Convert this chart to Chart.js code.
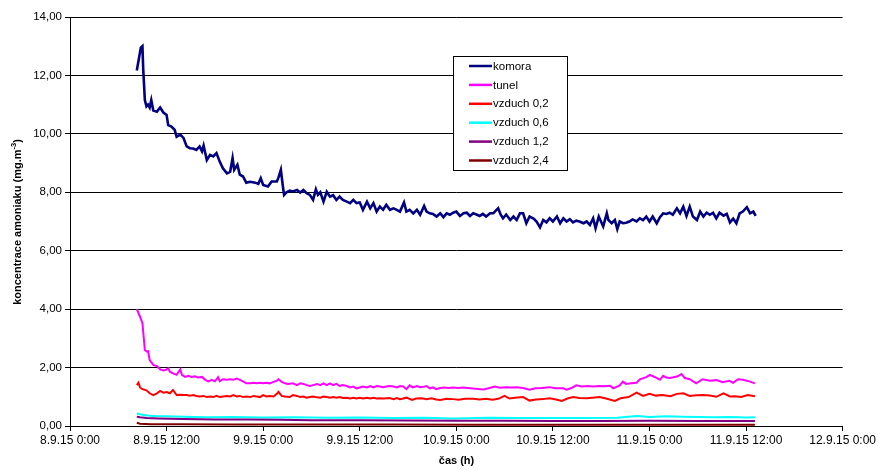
<!DOCTYPE html>
<html><head><meta charset="utf-8">
<script src="https://cdn.jsdelivr.net/npm/chart.js@4.4.1/dist/chart.umd.min.js"></script>
<style>html,body{margin:0;padding:0;background:#fff;}#wrap{width:878px;height:470px;position:relative}</style>
</head><body><div id="wrap"><canvas id="c" width="878" height="470"></canvas></div>
<script>
const seriesNames = ['komora', 'tunel', 'vzduch 0,2', 'vzduch 0,6', 'vzduch 1,2', 'vzduch 2,4'];
const seriesColors = ['#000080', '#FF00FF', '#FF0000', '#00FFFF', '#800080', '#800000'];
const xTickLabels = ['8.9.15 0:00', '8.9.15 12:00', '9.9.15 0:00', '9.9.15 12:00', '10.9.15 0:00', '10.9.15 12:00', '11.9.15 0:00', '11.9.15 12:00', '12.9.15 0:00'];
const yTitle = 'koncentrace amoniaku (mg.m';
const yTitleSup = '-3';
const xTitle = 'čas (h)';

// hours since 8.9.15 0:00
const komoraHours = [8.3,8.8,9.0,9.1,9.3,9.5,9.7,9.9,10.1,10.35,10.8,11.2,11.6,12.0,12.2,12.6,13.0,13.25,13.7,14.1,14.5,14.9,15.3,15.7,16.1,16.4,16.6,17.0,17.4,17.8,18.2,18.6,19.0,19.5,19.9,20.2,20.4,20.8,21.1,21.5,21.9,22.4,23.0,23.4,23.7,24.0,24.6,25.05,25.7,25.9,26.2,26.4,26.6,26.9,27.3,27.7,28.2,28.6,29.0,29.4,29.8,30.2,30.55,30.8,31.1,31.5,31.9,32.3,32.7,33.1,33.5,33.9,34.4,34.8,35.2,35.6,36.0,36.4,36.9,37.3,37.7,38.1,38.5,38.9,39.3,39.75,40.2,40.6,41.0,41.5,41.8,42.2,42.65,43.1,43.5,44.0,44.3,44.7,45.1,45.55,46.0,46.4,46.8,47.2,47.6,48.0,48.45,48.9,49.3,49.7,50.1,50.5,50.9,51.3,51.7,52.2,52.6,52.9,53.2,53.5,53.8,54.2,54.7,55.1,55.5,55.9,56.3,56.7,57.1,57.6,57.97,58.4,58.8,59.2,59.6,60.0,60.5,60.9,61.3,61.7,62.1,62.5,62.9,63.3,63.8,64.2,64.6,65.0,65.3,65.7,66.25,66.7,66.9,67.3,67.7,68.0,68.3,68.7,69.1,69.5,69.9,70.4,70.8,71.2,71.6,72.0,72.4,72.9,73.3,73.7,74.1,74.5,74.9,75.4,75.8,76.2,76.6,77.0,77.4,77.9,78.3,78.7,79.1,79.5,79.9,80.3,80.7,81.2,81.6,82.0,82.4,82.8,83.2,83.6,84.1,84.5,84.9,85.2];
const komoraValues = [12.17,12.95,13.0,12.2,11.16,10.94,11.0,10.9,11.16,10.8,10.76,10.9,10.73,10.65,10.3,10.25,10.14,9.9,9.97,9.86,9.57,9.51,9.5,9.45,9.57,9.4,9.6,9.1,9.28,9.23,9.34,9.05,8.82,8.65,8.7,9.17,8.77,8.94,8.6,8.54,8.33,8.36,8.33,8.29,8.48,8.25,8.2,8.37,8.37,8.5,8.77,8.31,7.91,8.0,8.06,8.03,8.08,7.99,8.08,7.97,7.91,7.74,8.1,7.91,8.0,7.68,8.02,7.85,7.9,7.74,7.85,7.74,7.68,7.63,7.74,7.63,7.65,7.4,7.68,7.45,7.63,7.34,7.51,7.4,7.57,7.4,7.45,7.4,7.34,7.65,7.34,7.4,7.28,7.4,7.23,7.53,7.34,7.28,7.26,7.17,7.28,7.15,7.28,7.23,7.3,7.34,7.19,7.28,7.3,7.19,7.28,7.24,7.19,7.26,7.17,7.28,7.28,7.37,7.45,7.24,7.11,7.24,7.05,7.17,7.05,7.28,7.28,6.94,7.17,7.1,7.0,6.8,7.05,6.97,7.11,7.0,7.17,6.94,7.11,7.0,7.08,6.97,7.03,7.0,6.94,7.0,6.88,7.11,6.77,7.17,6.83,7.28,7.05,6.94,7.05,6.74,7.0,6.94,6.96,7.0,7.07,7.0,7.11,7.05,7.17,7.0,7.17,6.94,7.15,7.28,7.26,7.3,7.23,7.45,7.28,7.51,7.19,7.51,7.17,7.05,7.34,7.17,7.3,7.23,7.3,7.11,7.3,7.2,7.26,6.97,7.1,6.94,7.28,7.34,7.49,7.28,7.34,7.19];

const tunelHours = [8.3,8.7,9.0,9.3,9.5,9.7,9.9,10.35,10.8,11.2,11.6,11.9,12.2,12.4,12.8,13.25,13.7,13.9,14.3,14.7,15.1,15.5,15.9,16.4,16.8,17.2,17.6,18.0,18.4,18.6,19.0,19.5,19.9,20.3,20.7,21.1,21.5,21.9,22.4,22.8,23.2,23.6,24.0,24.4,24.8,25.3,25.7,25.9,26.3,26.7,27.1,27.7,28.2,28.6,29.0,29.4,29.8,30.2,30.7,31.1,31.5,31.9,32.3,32.7,33.1,33.5,33.9,34.4,34.8,35.2,35.6,36.0,36.4,36.9,37.3,37.7,38.1,38.5,38.9,39.3,39.7,40.2,40.6,41.0,41.4,41.8,42.2,42.6,43.1,43.5,43.9,44.3,44.7,45.1,45.5,46.0,46.5,47.0,47.6,48.2,48.8,49.4,50.1,50.7,51.4,52.1,52.8,53.4,54.1,54.8,55.5,56.3,57.1,57.8,58.6,59.6,60.3,61.3,61.7,62.3,62.9,63.6,64.3,65.0,65.7,66.4,67.1,67.5,68.3,68.7,69.1,69.7,70.4,70.8,71.6,72.05,72.7,73.3,73.7,74.1,74.5,75.0,75.5,75.97,76.4,77.0,77.8,78.6,79.5,80.3,81.1,81.9,82.4,83.0,83.6,84.5,85.1];
const tunelValues = [4.0,3.74,3.52,2.6,2.55,2.56,2.26,2.09,2.05,1.94,1.9,1.92,1.98,1.86,1.8,1.75,1.94,1.75,1.68,1.72,1.68,1.7,1.66,1.68,1.58,1.53,1.58,1.53,1.67,1.53,1.6,1.58,1.6,1.58,1.62,1.58,1.53,1.46,1.46,1.48,1.46,1.48,1.46,1.48,1.46,1.51,1.55,1.6,1.51,1.46,1.44,1.46,1.4,1.46,1.44,1.4,1.37,1.4,1.44,1.4,1.46,1.4,1.46,1.4,1.44,1.37,1.4,1.37,1.32,1.35,1.29,1.32,1.35,1.32,1.37,1.32,1.37,1.35,1.33,1.35,1.37,1.35,1.32,1.37,1.35,1.26,1.39,1.32,1.37,1.33,1.34,1.37,1.29,1.32,1.26,1.3,1.32,1.3,1.32,1.3,1.32,1.3,1.28,1.27,1.25,1.3,1.35,1.31,1.33,1.32,1.33,1.3,1.24,1.29,1.3,1.33,1.29,1.29,1.24,1.3,1.39,1.35,1.37,1.35,1.37,1.36,1.38,1.29,1.39,1.52,1.44,1.46,1.48,1.6,1.67,1.75,1.67,1.58,1.72,1.66,1.64,1.67,1.7,1.78,1.64,1.6,1.46,1.6,1.55,1.57,1.5,1.55,1.48,1.6,1.58,1.52,1.46];

const vzduch02Hours = [8.3,8.5,8.7,9.0,9.5,9.9,10.35,10.8,11.2,11.6,12.0,12.4,12.8,13.25,13.7,14.1,14.5,14.9,15.3,15.7,16.1,16.6,17.0,17.4,17.8,18.2,18.6,19.0,19.5,19.9,20.3,20.7,21.1,21.5,21.9,22.4,22.8,23.2,23.6,24.0,24.4,24.8,25.3,25.7,25.9,26.3,26.7,27.3,27.7,28.2,28.6,29.0,29.4,29.8,30.2,30.7,31.1,31.5,31.9,32.3,32.7,33.1,33.5,33.9,34.4,34.8,35.2,35.6,36.0,36.4,36.9,37.3,37.7,38.1,38.5,39.0,39.7,40.2,40.6,41.0,41.4,41.8,42.5,43.0,43.7,44.3,44.9,45.5,46.0,46.8,47.6,48.3,49.1,50.1,50.9,51.7,52.5,53.2,54.0,54.6,55.3,56.3,57.1,57.9,58.8,59.6,60.4,61.1,61.8,62.5,63.3,64.2,64.9,65.8,66.6,67.7,68.4,69.4,70.4,71.2,72.0,72.8,73.6,74.6,75.4,76.2,77.0,77.8,78.6,79.5,80.3,81.2,82.0,82.6,83.4,84.2,85.1];
const vzduch02Values = [1.4,1.48,1.32,1.26,1.22,1.12,1.06,1.12,1.2,1.14,1.16,1.12,1.23,1.06,1.07,1.06,1.06,1.04,1.06,1.03,1.01,1.03,0.99,1.01,0.99,1.03,0.99,1.01,1.03,1.01,1.06,1.01,1.03,0.99,1.01,0.99,1.03,1.01,0.99,1.06,1.01,1.03,1.01,1.1,1.17,1.03,1.01,0.99,1.06,1.03,0.99,1.01,0.97,0.99,1.01,0.98,0.97,1.01,0.99,0.97,0.99,0.97,0.99,0.96,0.97,0.94,0.97,0.94,0.97,0.94,0.97,0.94,0.97,0.94,0.95,0.94,0.96,0.92,0.96,0.92,0.94,0.97,0.89,0.94,0.95,0.92,0.95,0.91,0.89,0.93,0.92,0.9,0.93,0.93,0.91,0.93,0.9,0.93,1.03,0.94,0.97,0.99,0.87,0.91,0.92,0.95,0.91,0.86,0.94,0.99,0.96,0.95,0.97,0.99,0.94,0.86,0.95,0.99,1.14,1.03,1.1,1.04,1.06,1.02,1.1,1.12,1.03,1.05,1.06,1.04,1.0,1.12,1.01,1.02,0.99,1.06,1.02];

const vzduch06Hours = [8.3,8.7,9.5,10.5,12,14,17,20,24,28,32,36,40,44,47.6,52,56,60,64,68,70.4,72,74,76,78,80,82,84,85.1];
const vzduch06Values = [0.43,0.4,0.36,0.34,0.33,0.32,0.3,0.31,0.29,0.3,0.28,0.29,0.27,0.28,0.26,0.28,0.27,0.27,0.27,0.28,0.34,0.31,0.33,0.32,0.31,0.3,0.31,0.29,0.3];

const vzduch12Hours = [8.3,8.7,9.5,11,14,18,22,26,30,36,42,48,54,60,66,72,78,85.1];
const vzduch12Values = [0.32,0.3,0.27,0.26,0.24,0.22,0.22,0.21,0.2,0.2,0.19,0.18,0.18,0.17,0.17,0.18,0.17,0.17];

const vzduch24Hours = [8.3,8.7,10,14,20,30,40,50,60,70,85.1];
const vzduch24Values = [0.11,0.08,0.06,0.06,0.05,0.05,0.05,0.04,0.04,0.04,0.04];

const allHours = [komoraHours, tunelHours, vzduch02Hours, vzduch06Hours, vzduch12Hours, vzduch24Hours];
const allValues = [komoraValues, tunelValues, vzduch02Values, vzduch06Values, vzduch12Values, vzduch24Values];

const FONT = '"Liberation Sans", Arial, sans-serif';

const datasets = seriesNames.map((name, i) => ({
  label: name,
  data: allHours[i].map((h, k) => ({x: h, y: allValues[i][k]})),
  borderColor: seriesColors[i],
  backgroundColor: seriesColors[i],
  borderWidth: i === 0 ? 2.6 : 2,
  pointRadius: 0,
  tension: 0,
  fill: false,
  order: 6 - i
}));

const customPlugin = {
  id: 'custom',
  afterDatasetsDraw(chart) {
    const ctx = chart.ctx;
    ctx.save();
    const bx = 453.5, by = 56.5, bw = 114, bh = 114;
    ctx.fillStyle = '#fff';
    ctx.fillRect(bx, by, bw, bh);
    ctx.strokeStyle = '#000';
    ctx.lineWidth = 1;
    ctx.strokeRect(bx, by, bw, bh);
    ctx.font = '11.5px ' + FONT;
    ctx.textBaseline = 'middle';
    ctx.textAlign = 'left';
    chart.data.datasets.forEach((ds, i) => {
      const y = 66 + i * 18.9;
      ctx.strokeStyle = ds.borderColor;
      ctx.lineWidth = 2.5;
      ctx.beginPath();
      ctx.moveTo(469, y);
      ctx.lineTo(492, y);
      ctx.stroke();
      ctx.fillStyle = '#000';
      ctx.fillText(ds.label, 493, y + 0.5);
    });
    ctx.translate(18, 222);
    ctx.rotate(-Math.PI / 2);
    const mainFont = 'bold 11px ' + FONT;
    const supFont = 'bold 7.5px ' + FONT;
    ctx.font = mainFont;
    const w1 = ctx.measureText(yTitle).width;
    const w3 = ctx.measureText(')').width;
    ctx.font = supFont;
    const w2 = ctx.measureText(yTitleSup).width;
    let x0 = -(w1 + w2 + w3) / 2;
    ctx.fillStyle = '#000';
    ctx.textBaseline = 'middle';
    ctx.font = mainFont;
    ctx.fillText(yTitle, x0, 0);
    ctx.font = supFont;
    ctx.fillText(yTitleSup, x0 + w1, -4);
    ctx.font = mainFont;
    ctx.fillText(')', x0 + w1 + w2, 0);
    ctx.restore();
    ctx.save();
    ctx.font = 'bold 11px ' + FONT;
    ctx.fillStyle = '#000';
    ctx.textAlign = 'center';
    ctx.textBaseline = 'middle';
    ctx.fillText(xTitle, 456.5, 461);
    ctx.restore();
  }
};

new Chart(document.getElementById('c'), {
  type: 'line',
  data: { datasets },
  options: {
    responsive: false,
    animation: false,
    layout: { padding: { top: 17, right: 35, left: 0, bottom: 0 }, autoPadding: false },
    plugins: { legend: { display: false }, tooltip: { enabled: false } },
    scales: {
      x: {
        type: 'linear',
        min: 0, max: 96,
        afterFit(scale) { scale.height = 44; },
        ticks: {
          stepSize: 12,
          autoSkip: false,
          maxRotation: 0,
          minRotation: 0,
          padding: 2,
          color: '#000',
          font: { family: FONT, size: 12 },
          callback: (v) => xTickLabels[Math.round(v / 12)]
        },
        grid: { drawOnChartArea: false, drawTicks: true, tickLength: 5, color: '#000', tickColor: '#000' },
        border: { display: true, color: '#000', width: 1 }
      },
      y: {
        min: 0, max: 14,
        afterFit(scale) { scale.width = 70; },
        ticks: {
          stepSize: 2,
          padding: 3,
          color: '#000',
          font: { family: FONT, size: 11.5 },
          callback: (v) => v.toFixed(2).replace('.', ',')
        },
        grid: { color: '#000', lineWidth: 1, drawTicks: true, tickLength: 5, tickColor: '#000' },
        border: { display: true, color: '#000', width: 1 }
      }
    }
  },
  plugins: [customPlugin]
});
</script>
</body></html>
